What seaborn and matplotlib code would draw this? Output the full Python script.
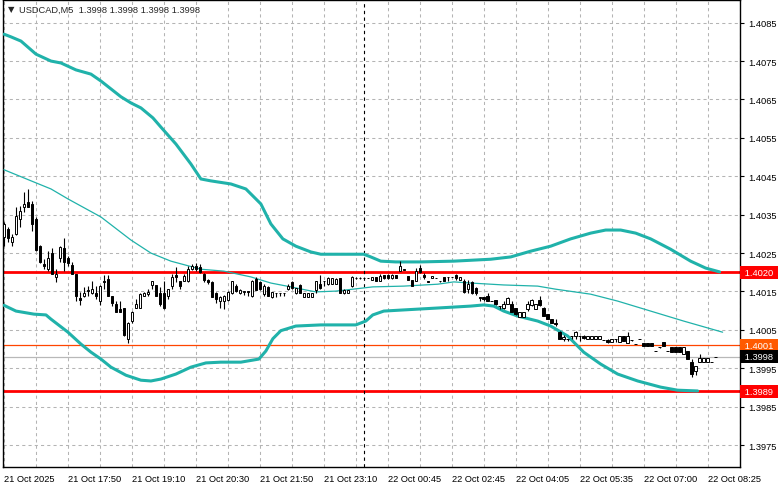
# %%
import numpy as np
import pandas as pd
import seaborn as sns
import matplotlib
matplotlib.use("Agg")
import matplotlib.pyplot as plt

# %%
symbol = "USDCAD,M5"
last_quote = "1.3998 1.3998 1.3998 1.3998"

opens = [1.40291, 1.40313, 1.40280, 1.40301, 1.40339, 1.40370, 1.40383, 1.40378, 1.40339, 1.40268,
         1.40221, 1.40208, 1.40250, 1.40188, 1.40237, 1.40262, 1.40237, 1.40219, 1.40195, 1.40133,
         1.40138, 1.40151, 1.40146, 1.40146, 1.40125, 1.40177, 1.40182, 1.40138, 1.40117, 1.40104,
         1.40107, 1.40026, 1.40073, 1.40107, 1.40107, 1.40138, 1.40143, 1.40167, 1.40167, 1.40146,
         1.40146, 1.40138, 1.40164, 1.40193, 1.40177, 1.40177, 1.40177, 1.40208, 1.40216, 1.40214,
         1.40195, 1.40180, 1.40174, 1.40146, 1.40125, 1.40125, 1.40128, 1.40146, 1.40164, 1.40146,
         1.40149, 1.40150, 1.40138, 1.40182, 1.40174, 1.40143, 1.40161, 1.40135, 1.40146, 1.40145,
         1.40146, 1.40156, 1.40174, 1.40146, 1.40167, 1.40135, 1.40135, 1.40135, 1.40154, 1.40169,
         1.40177, 1.40169, 1.40169, 1.40169, 1.40185, 1.40146, 1.40146, 1.40164, 1.40185, 1.40186,
         1.40185, 1.40185, 1.40180, 1.40188, 1.40177, 1.40193, 1.40193, 1.40185, 1.40193, 1.40203,
         1.40209, 1.40190, 1.40180, 1.40177, 1.40211, 1.40193, 1.40178, 1.40185, 1.40185, 1.40177,
         1.40188, 1.40188, 1.40188, 1.40193, 1.40180, 1.40177, 1.40156, 1.40174, 1.40159, 1.40136,
         1.40135, 1.40138, 1.40125, 1.40128, 1.40112, 1.40107, 1.40117, 1.40117, 1.40107, 1.40083,
         1.40083, 1.40104, 1.40115, 1.40104, 1.40128, 1.40107, 1.40091, 1.40078, 1.40068, 1.40044,
         1.40026, 1.40026, 1.40034, 1.40034, 1.40034, 1.40034, 1.40026, 1.40026, 1.40026, 1.40026,
         1.40024, 1.40023, 1.40018, 1.40026, 1.40018, 1.40034, 1.40016, 1.40023, 1.40013, 1.40026,
         1.40016, 1.40016, 1.40016, 1.39995, 1.40005, 1.40018, 1.39995, 1.40005, 1.40005, 1.40005,
         1.39987, 1.39995, 1.39966, 1.39943, 1.39966, 1.39966, 1.39966, 1.39967, 1.39980]
highs = [1.40330, 1.40318, 1.40301, 1.40370, 1.40372, 1.40409, 1.40417, 1.40385, 1.40344, 1.40271,
         1.40234, 1.40255, 1.40262, 1.40208, 1.40268, 1.40289, 1.40242, 1.40227, 1.40195, 1.40149,
         1.40161, 1.40164, 1.40177, 1.40164, 1.40167, 1.40193, 1.40193, 1.40138, 1.40125, 1.40125,
         1.40107, 1.40070, 1.40099, 1.40130, 1.40146, 1.40149, 1.40156, 1.40177, 1.40167, 1.40161,
         1.40177, 1.40156, 1.40195, 1.40214, 1.40177, 1.40195, 1.40216, 1.40221, 1.40224, 1.40221,
         1.40198, 1.40182, 1.40177, 1.40149, 1.40138, 1.40141, 1.40151, 1.40177, 1.40169, 1.40156,
         1.40151, 1.40151, 1.40180, 1.40188, 1.40177, 1.40169, 1.40164, 1.40149, 1.40146, 1.40146,
         1.40146, 1.40169, 1.40177, 1.40159, 1.40169, 1.40146, 1.40146, 1.40146, 1.40177, 1.40193,
         1.40177, 1.40188, 1.40185, 1.40185, 1.40185, 1.40156, 1.40154, 1.40190, 1.40188, 1.40188,
         1.40186, 1.40186, 1.40188, 1.40188, 1.40195, 1.40193, 1.40195, 1.40195, 1.40193, 1.40229,
         1.40209, 1.40190, 1.40180, 1.40211, 1.40219, 1.40198, 1.40178, 1.40190, 1.40186, 1.40178,
         1.40188, 1.40188, 1.40189, 1.40195, 1.40188, 1.40182, 1.40180, 1.40177, 1.40161, 1.40136,
         1.40135, 1.40146, 1.40126, 1.40128, 1.40112, 1.40125, 1.40135, 1.40125, 1.40107, 1.40096,
         1.40096, 1.40125, 1.40130, 1.40117, 1.40138, 1.40109, 1.40091, 1.40078, 1.40078, 1.40047,
         1.40036, 1.40026, 1.40034, 1.40047, 1.40034, 1.40036, 1.40034, 1.40034, 1.40034, 1.40034,
         1.40024, 1.40026, 1.40026, 1.40026, 1.40034, 1.40034, 1.40044, 1.40024, 1.40014, 1.40027,
         1.40016, 1.40016, 1.40016, 1.39996, 1.40006, 1.40018, 1.39996, 1.40005, 1.40005, 1.40005,
         1.40005, 1.39995, 1.39974, 1.39956, 1.39987, 1.39977, 1.39977, 1.39967, 1.39980]
lows = [1.40268, 1.40280, 1.40268, 1.40297, 1.40318, 1.40357, 1.40370, 1.40307, 1.40255, 1.40224,
        1.40208, 1.40203, 1.40195, 1.40174, 1.40227, 1.40203, 1.40216, 1.40195, 1.40125, 1.40115,
        1.40135, 1.40138, 1.40143, 1.40130, 1.40115, 1.40156, 1.40138, 1.40112, 1.40096, 1.40096,
        1.40034, 1.40016, 1.40068, 1.40107, 1.40107, 1.40138, 1.40138, 1.40156, 1.40138, 1.40112,
        1.40104, 1.40130, 1.40156, 1.40174, 1.40156, 1.40177, 1.40174, 1.40206, 1.40203, 1.40198,
        1.40174, 1.40169, 1.40135, 1.40120, 1.40107, 1.40104, 1.40125, 1.40143, 1.40149, 1.40143,
        1.40141, 1.40138, 1.40135, 1.40154, 1.40154, 1.40138, 1.40138, 1.40133, 1.40135, 1.40138,
        1.40138, 1.40154, 1.40156, 1.40143, 1.40146, 1.40135, 1.40135, 1.40135, 1.40146, 1.40156,
        1.40164, 1.40167, 1.40169, 1.40169, 1.40146, 1.40143, 1.40146, 1.40161, 1.40182, 1.40182,
        1.40184, 1.40184, 1.40180, 1.40177, 1.40177, 1.40182, 1.40182, 1.40182, 1.40185, 1.40203,
        1.40206, 1.40180, 1.40164, 1.40177, 1.40198, 1.40182, 1.40176, 1.40185, 1.40184, 1.40176,
        1.40177, 1.40177, 1.40187, 1.40180, 1.40180, 1.40146, 1.40146, 1.40143, 1.40141, 1.40125,
        1.40125, 1.40125, 1.40124, 1.40115, 1.40104, 1.40104, 1.40117, 1.40096, 1.40089, 1.40083,
        1.40083, 1.40099, 1.40112, 1.40104, 1.40112, 1.40086, 1.40078, 1.40068, 1.40060, 1.40026,
        1.40021, 1.40021, 1.40026, 1.40026, 1.40021, 1.40026, 1.40026, 1.40026, 1.40026, 1.40026,
        1.40023, 1.40016, 1.40018, 1.40018, 1.40018, 1.40021, 1.40016, 1.40022, 1.40012, 1.40025,
        1.40008, 1.40008, 1.40008, 1.39994, 1.40004, 1.40008, 1.39994, 1.39992, 1.39992, 1.39992,
        1.39987, 1.39974, 1.39927, 1.39932, 1.39966, 1.39966, 1.39966, 1.39966, 1.39980]
closes = [1.40325, 1.40288, 1.40291, 1.40346, 1.40360, 1.40378, 1.40370, 1.40325, 1.40258, 1.40227,
          1.40216, 1.40237, 1.40195, 1.40195, 1.40266, 1.40227, 1.40224, 1.40195, 1.40138, 1.40128,
          1.40146, 1.40154, 1.40156, 1.40138, 1.40164, 1.40174, 1.40138, 1.40120, 1.40096, 1.40096,
          1.40036, 1.40068, 1.40096, 1.40117, 1.40143, 1.40146, 1.40149, 1.40177, 1.40138, 1.40117,
          1.40107, 1.40156, 1.40188, 1.40188, 1.40164, 1.40190, 1.40208, 1.40216, 1.40208, 1.40201,
          1.40180, 1.40174, 1.40135, 1.40130, 1.40135, 1.40138, 1.40149, 1.40177, 1.40151, 1.40154,
          1.40150, 1.40149, 1.40177, 1.40154, 1.40156, 1.40164, 1.40138, 1.40149, 1.40145, 1.40146,
          1.40146, 1.40164, 1.40159, 1.40159, 1.40146, 1.40146, 1.40146, 1.40146, 1.40177, 1.40159,
          1.40177, 1.40185, 1.40185, 1.40182, 1.40146, 1.40154, 1.40154, 1.40188, 1.40186, 1.40185,
          1.40185, 1.40185, 1.40188, 1.40177, 1.40190, 1.40185, 1.40185, 1.40193, 1.40185, 1.40216,
          1.40207, 1.40180, 1.40164, 1.40203, 1.40201, 1.40188, 1.40176, 1.40190, 1.40185, 1.40177,
          1.40177, 1.40188, 1.40188, 1.40185, 1.40188, 1.40149, 1.40169, 1.40146, 1.40146, 1.40134,
          1.40130, 1.40125, 1.40125, 1.40117, 1.40112, 1.40117, 1.40133, 1.40096, 1.40091, 1.40096,
          1.40096, 1.40117, 1.40128, 1.40117, 1.40115, 1.40086, 1.40078, 1.40068, 1.40065, 1.40026,
          1.40031, 1.40025, 1.40033, 1.40044, 1.40034, 1.40028, 1.40034, 1.40034, 1.40034, 1.40034,
          1.40023, 1.40018, 1.40026, 1.40026, 1.40034, 1.40021, 1.40034, 1.40023, 1.40013, 1.40026,
          1.40008, 1.40008, 1.40008, 1.39995, 1.40005, 1.40008, 1.39995, 1.39992, 1.39992, 1.39992,
          1.40005, 1.39974, 1.39935, 1.39956, 1.39977, 1.39977, 1.39977, 1.39966, 1.39980]

time_labels = ["21 Oct 2025", "21 Oct 17:50", "21 Oct 19:10", "21 Oct 20:30", "21 Oct 21:50",
               "21 Oct 23:10", "22 Oct 00:45", "22 Oct 02:45", "22 Oct 04:05", "22 Oct 05:35",
               "22 Oct 07:00", "22 Oct 08:25"]
day_break_bar = 90

# envelope lines (bar index, price)
upper_pos = [0, 1.75, 4.25, 8, 11.75, 14.25, 18, 21.75, 24.25, 29.25, 31.75, 34.25, 37.25, 39.25,
             43, 46.75, 49.25, 51.75, 56.75, 60.5, 64.25, 66.75, 69.75, 73, 76.75, 79.25, 90,
             91.75, 94.25, 98, 104.25, 112.5, 121.75, 126.75, 131.75, 136.75, 141.75, 146.75,
             150.5, 154.25, 158, 161.75, 166.75, 171.75, 175.5, 179]
upper_val = [1.40820, 1.40813, 1.40802, 1.40768, 1.40750, 1.40745, 1.40727, 1.40716, 1.40698,
             1.40657, 1.40641, 1.40628, 1.40602, 1.40578, 1.40534, 1.40482, 1.40443, 1.40438,
             1.40430, 1.40417, 1.40378, 1.40326, 1.40287, 1.40268, 1.40253, 1.40247, 1.40247,
             1.40240, 1.40229, 1.40227, 1.40227, 1.40229, 1.40234, 1.40240, 1.40255, 1.40268,
             1.40287, 1.40302, 1.40310, 1.40310, 1.40302, 1.40287, 1.40260, 1.40229, 1.40211,
             1.40201]
mid_pos = [0, 7.5, 11.75, 16, 24.25, 31.75, 36.75, 41.75, 49.25, 55, 61.75, 66.75, 71.75, 75.5,
           78, 83, 87.25, 92.25, 100, 108.5, 112.5, 116.75, 125, 133.5, 138, 146.75, 153.5,
           161.75, 170, 179.75]
mid_val = [1.40467, 1.40435, 1.40417, 1.40391, 1.40344, 1.40284, 1.40250, 1.40229, 1.40208,
           1.40203, 1.40188, 1.40172, 1.40162, 1.40154, 1.40149, 1.40151, 1.40156, 1.40162,
           1.40164, 1.40169, 1.40175, 1.40172, 1.40167, 1.40164, 1.40156, 1.40143, 1.40125,
           1.40099, 1.40073, 1.40044]
lower_pos = [0, 3, 7.5, 10.5, 11.75, 16, 19.25, 21.75, 24.25, 26.75, 30.5, 34.25, 36.75, 39.25,
             43, 46.75, 50.5, 54.25, 59.25, 63.75, 65.5, 67.25, 69.25, 73, 79.25, 88, 90.5,
             92.25, 95, 100, 108.5, 116.75, 120, 122.5, 125, 128.5, 133.5, 136.75, 141, 145,
             149.25, 153.5, 158.5, 164.25, 168.5, 173.5]
lower_val = [1.40114, 1.40099, 1.40091, 1.40089, 1.40078, 1.40044, 1.40013, 1.39992, 1.39974,
             1.39953, 1.39932, 1.39919, 1.39917, 1.39922, 1.39935, 1.39953, 1.39964, 1.39966,
             1.39966, 1.39974, 1.39995, 1.40027, 1.40048, 1.40060, 1.40063, 1.40063, 1.40073,
             1.40089, 1.40099, 1.40102, 1.40107, 1.40112, 1.40115, 1.40112, 1.40099, 1.40086,
             1.40073, 1.40060, 1.40034, 1.39992, 1.39961, 1.39935, 1.39917, 1.39901, 1.39893,
             1.39891]

red_levels = [1.4020, 1.3989]
ask_level = 1.4001
bid_level = 1.3998

# %%
sns.set_style("white")
plt.rcParams["font.family"] = ["Liberation Sans", "DejaVu Sans"]
fs = 6.7
teal = "#20b2aa"

fig = plt.figure(figsize=(7.81, 4.89), dpi=100)
ax = fig.add_axes([3 / 781, 21 / 489, 737 / 781, 467 / 489])

df = pd.DataFrame({"open": opens, "high": highs, "low": lows, "close": closes})
df["bar"] = np.arange(len(df))
df["bull"] = df.close >= df.open
df["bottom"] = df[["open", "close"]].min(axis=1)
df["body"] = (df.close - df.open).abs().clip(lower=0.000002)

# grid
ax.set_xticks(np.arange(0, 185, 16))
ax.set_xticks(np.arange(8, 185, 16), minor=True)
ax.set_yticks(np.arange(1.3975, 1.4090, 0.001))
ax.grid(True, which="both", color="#b4b4b4", linestyle=(0, (3, 3)), linewidth=0.75, zorder=0)

# levels
for lvl in red_levels:
    ax.axhline(lvl, color="#ff0000", linewidth=2.0, zorder=2)
ax.axhline(ask_level, color="#ff4500", linewidth=0.9, zorder=2)
ax.axhline(bid_level, color="#b8b8b8", linewidth=0.9, zorder=2)
ax.axvline(day_break_bar, color="black", linestyle=(0, (3, 3)), linewidth=0.8, zorder=2)

# envelope
sns.lineplot(x=upper_pos, y=upper_val, ax=ax, color=teal, linewidth=2.2, zorder=3)
sns.lineplot(x=lower_pos, y=lower_val, ax=ax, color=teal, linewidth=2.2, zorder=3)
sns.lineplot(x=mid_pos, y=mid_val, ax=ax, color=teal, linewidth=0.9, zorder=3)

# candles
ax.vlines(df.bar, df.low, df.high, color="black", linewidth=0.8, zorder=4)
ax.bar(df.bar, df.body, bottom=df.bottom, width=0.62,
       color=np.where(df.bull, "white", "black"), edgecolor="black", linewidth=0.7, zorder=5)

ax.set_xlim(-0.25, 184.1)
ax.set_ylim(1.39693, 1.40909)

ax.set_xticklabels(time_labels)
for lab in ax.get_xticklabels():
    lab.set_horizontalalignment("left")
ax.yaxis.tick_right()
ax.yaxis.set_major_formatter(plt.FormatStrFormatter("%.4f"))
ax.tick_params(axis="x", which="major", length=3, width=0.8, pad=2, labelsize=fs, colors="black")
ax.tick_params(axis="x", which="minor", length=0)
ax.tick_params(axis="y", length=3, width=0.8, pad=3, labelsize=fs, colors="black")
ax.set_xlabel("")
ax.set_ylabel("")
for sp in ax.spines.values():
    sp.set_color("black")
    sp.set_linewidth(1.0)

# price tags on the right
tags = [(red_levels[0], "#ff0000", "white"), (ask_level, "#ff5a00", "white"),
        (bid_level, "black", "white"), (red_levels[1], "#ff0000", "white")]
for price, bg, fg in tags:
    ax.text(1.003, price, f" {price:.4f} ", transform=ax.get_yaxis_transform(),
            ha="left", va="center", fontsize=fs, color=fg, clip_on=False, zorder=10,
            bbox=dict(boxstyle="square,pad=0.2", facecolor=bg, edgecolor="none"))

# header
fig.text(8 / 781, 1 - 10 / 489, "\u25bc", fontsize=6, va="center", ha="left", family="DejaVu Sans")
fig.text(19 / 781, 1 - 10 / 489, f"{symbol}  {last_quote}", fontsize=fs, va="center", ha="left")

fig.savefig("out.png", dpi=100, facecolor="white")
